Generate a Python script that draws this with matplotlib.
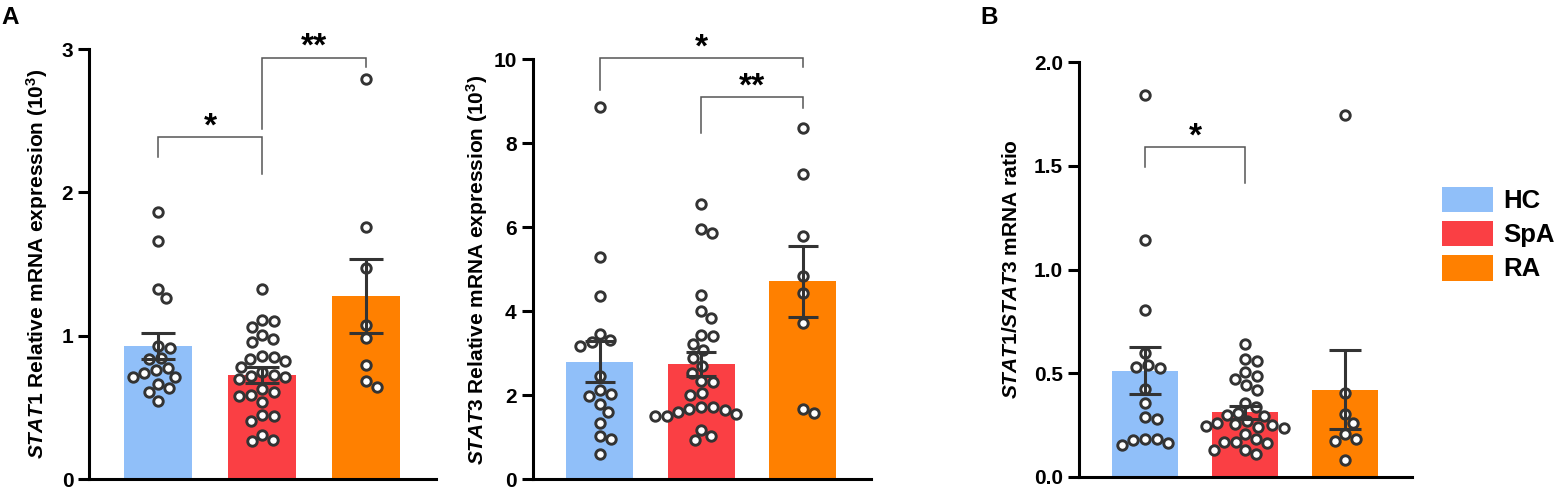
import numpy as np
import matplotlib
matplotlib.use("Agg")
import matplotlib.pyplot as plt
from matplotlib.patches import Patch

plt.rcParams['font.family'] = ['Liberation Sans', 'DejaVu Sans']
plt.rcParams['font.weight'] = 'bold'
plt.rcParams['mathtext.fontset'] = 'custom'
plt.rcParams['mathtext.it'] = 'Liberation Sans:italic:bold'
plt.rcParams['mathtext.rm'] = 'Liberation Sans:bold'
plt.rcParams['mathtext.bf'] = 'Liberation Sans:bold'

# ---------------- data ----------------
groups = ["HC", "SpA", "RA"]
colors = ["#90BFF9", "#FA3F44", "#FF8000"]

p1_hc = [1.867, 1.663, 1.330, 1.267, 0.912, 0.930, 0.849, 0.837, 0.779, 0.765,
         0.742, 0.714, 0.714, 0.667, 0.637, 0.609, 0.547]
p1_spa = [1.326, 1.102, 1.109, 1.063, 1.005, 0.958, 0.975, 0.858, 0.837, 0.823,
          0.853, 0.784, 0.749, 0.714, 0.721, 0.730, 0.702, 0.609, 0.581, 0.628,
          0.591, 0.539, 0.442, 0.447, 0.407, 0.312, 0.267, 0.272]
p1_ra = [2.788, 1.760, 1.470, 1.074, 0.986, 0.795, 0.684, 0.644]
p1_mean = [0.930, 0.727, 1.277]
p1_sem = [0.090, 0.055, 0.256]

p2_hc = [8.856, 5.282, 4.369, 3.471, 3.310, 3.260, 3.170, 2.454, 2.121, 2.025,
         1.978, 1.803, 1.604, 1.350, 1.025, 0.969, 0.596]
p2_spa = [6.545, 5.957, 5.854, 4.384, 4.010, 3.852, 3.407, 3.431, 3.233, 3.074,
          2.890, 2.692, 2.533, 2.318, 2.342, 2.001, 2.057, 1.565, 1.644, 1.723,
          1.723, 1.684, 1.604, 1.501, 1.501, 1.184, 1.025, 0.946]
p2_ra = [8.356, 7.268, 5.790, 4.837, 4.424, 3.733, 1.684, 1.589]
p2_mean = [2.80, 2.74, 4.71]
p2_sem = [0.49, 0.29, 0.85]

p3_hc = [1.841, 1.140, 0.806, 0.597, 0.541, 0.530, 0.525, 0.424, 0.358, 0.291,
         0.278, 0.182, 0.182, 0.178, 0.165, 0.154]
p3_spa = [0.642, 0.568, 0.557, 0.504, 0.488, 0.472, 0.445, 0.421, 0.358, 0.336,
          0.310, 0.299, 0.294, 0.271, 0.262, 0.255, 0.251, 0.246, 0.242, 0.235,
          0.206, 0.182, 0.170, 0.167, 0.162, 0.130, 0.130, 0.109]
p3_ra = [1.743, 0.404, 0.302, 0.259, 0.207, 0.182, 0.175, 0.082]
p3_mean = [0.512, 0.311, 0.420]
p3_sem = [0.113, 0.030, 0.190]

p1_ticks = [0, 1, 2, 3]
p2_ticks = [0, 2, 4, 6, 8, 10]
p3_ticks = [0.0, 0.5, 1.0, 1.5, 2.0]
p3_ticklabels = ["0.0", "0.5", "1.0", "1.5", "2.0"]

# brackets: (group_i, group_j, y_bar, y_leg_i, y_leg_j, label)
p1_sig = [(0, 1, 2.384, 2.249, 2.126, "*"), (1, 2, 2.94, 2.44, 2.877, "**")]
p2_sig = [(0, 2, 10.02, 9.27, 9.825, "*"), (1, 2, 9.10, 8.24, 8.83, "**")]
p3_sig = [(0, 1, 1.589, 1.496, 1.416, "*")]

p1_ylabel = r"$\mathit{STAT1}$ Relative mRNA expression (10$^{3}$)"
p2_ylabel = r"$\mathit{STAT3}$ Relative mRNA expression (10$^{3}$)"
p3_ylabel = r"$\mathit{STAT1/STAT3}$ mRNA ratio"

# ---------------- layout ----------------
W, H = 1562, 493
fig = plt.figure(figsize=(W / 100, H / 100), dpi=100)


def px_rect(left, right, y0, ytop):
    return [left / W, (H - y0) / H, (right - left) / W, (y0 - ytop) / H]


panels = [
    dict(rect=px_rect(89.3, 435.7, 479.3, 49.0), data=[p1_hc, p1_spa, p1_ra],
         mean=p1_mean, sem=p1_sem, ylim=(0, 3), ticks=p1_ticks, tlabels=None,
         sig=p1_sig, ylabel=p1_ylabel, lab_px=50, cap=12),
    dict(rect=px_rect(532.7, 870.7, 479.3, 59.3), data=[p2_hc, p2_spa, p2_ra],
         mean=p2_mean, sem=p2_sem, ylim=(0, 10), ticks=p2_ticks, tlabels=None,
         sig=p2_sig, ylabel=p2_ylabel, lab_px=490, cap=11),
    dict(rect=px_rect(1079, 1412, 477.0, 62.0), data=[p3_hc, p3_spa, p3_ra],
         mean=p3_mean, sem=p3_sem, ylim=(0, 2), ticks=p3_ticks, tlabels=p3_ticklabels,
         sig=p3_sig, ylabel=p3_ylabel, lab_px=1021, cap=11.5),
]

XLIM = (-0.66, 2.67)
BARW = 0.66
SPINE_LW = 2.2
DIAM = 12.0  # px, min distance between point centres


def swarm(ypx, D):
    n = len(ypx)
    order = np.argsort(-np.asarray(ypx))
    placed = []
    xs = np.zeros(n)
    for i in order:
        y = ypx[i]
        near = [(px, py) for px, py in placed if abs(py - y) < D]
        cands = [0.0]
        for px, py in near:
            dx = np.sqrt(D * D - (py - y) ** 2)
            cands += [px + dx, px - dx]
        cands.sort(key=lambda c: (round(abs(c), 6), -c))
        for c in cands:
            if all((c - px) ** 2 + (y - py) ** 2 >= D * D - 1e-6 for px, py in near):
                xs[i] = c
                break
        placed.append((xs[i], y))
    return xs


for P in panels:
    ax = fig.add_axes(P["rect"])
    ax.set_xlim(*XLIM)
    ax.set_ylim(*P["ylim"])
    x = np.arange(3)
    ax.bar(x, P["mean"], width=BARW, color=colors, linewidth=0, zorder=1)

    px_per_x = ax.bbox.width / (XLIM[1] - XLIM[0])
    px_per_y = ax.bbox.height / (P["ylim"][1] - P["ylim"][0])
    for gi, vals in enumerate(P["data"]):
        vals = np.asarray(vals)
        offs = swarm(vals * px_per_y, DIAM) / px_per_x
        ax.plot(gi + offs, vals, 'o', ms=6.8, mfc='white', mec='#333333', mew=2.1,
                zorder=3, clip_on=False)

    ax.errorbar(x, P["mean"], yerr=P["sem"], fmt='none', ecolor='#333333',
                elinewidth=2.2, capsize=P["cap"], capthick=2.2, zorder=4)

    for (i, j, yb, yi, yj, lab) in P["sig"]:
        ax.plot([i, i, j, j], [yi, yb, yb, yj], color='#555555', lw=1.1,
                clip_on=False, zorder=5, solid_joinstyle='miter')
        ax.annotate(lab, xy=((i + j) / 2, yb), xytext=(0, 1.2),
                    textcoords='offset points', ha='center', va='baseline',
                    fontsize=24, fontweight='bold', annotation_clip=False)

    for s in ['top', 'right']:
        ax.spines[s].set_visible(False)
    for s in ['left', 'bottom']:
        ax.spines[s].set_linewidth(SPINE_LW)
        ax.spines[s].set_capstyle('projecting')
    ax.set_xticks([])
    ax.set_yticks(P["ticks"])
    if P["tlabels"] is not None:
        ax.set_yticklabels(P["tlabels"])
    ax.tick_params(axis='y', length=8, width=SPINE_LW, pad=3.5, labelsize=15)
    for t in ax.get_yticklabels():
        t.set_fontweight('bold')
    ax.set_ylabel(P["ylabel"], fontsize=15, fontweight='bold')
    left_px = P["rect"][0] * W
    ax.yaxis.set_label_coords((P["lab_px"] - left_px) / ax.bbox.width, 0.5)

# panel letters
fig.text(1 / W, (H - 24) / H, "A", fontsize=17.5, fontweight='bold', va='baseline')
fig.text(980 / W, (H - 24) / H, "B", fontsize=17.5, fontweight='bold', va='baseline')

# legend
handles = [Patch(facecolor=c, edgecolor='none') for c in colors]
fig.legend(handles, groups, loc='upper left', bbox_to_anchor=(1442 / W, (H - 186.7) / H),
           frameon=False, borderpad=0, borderaxespad=0,
           handlelength=2.0, handleheight=1.15, handletextpad=0.38, labelspacing=0.3,
           prop={'weight': 'bold', 'size': 18.5})

fig.savefig("out.png", dpi=100)
